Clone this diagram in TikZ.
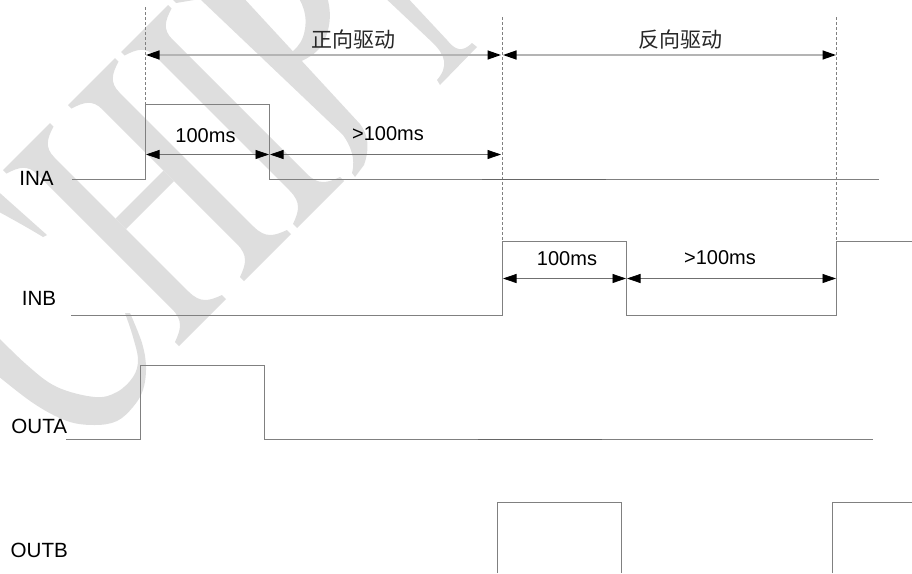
\documentclass[tikz,border=0pt]{standalone}
\usepackage{fontspec}
\setmainfont{Liberation Sans}
\newfontfamily\cjk{Noto Sans CJK SC}
\usetikzlibrary{arrows.meta}
\definecolor{sigcol}{HTML}{808080}
\definecolor{sigdark}{HTML}{666666}
\definecolor{spancol}{HTML}{707070}
\definecolor{spanlight}{HTML}{B4B4B4}
\definecolor{wm}{HTML}{DEDEDE}
\tikzset{
  sig/.style={draw=sigcol,line width=0.9pt,line join=miter},
  sigover/.style={draw=sigdark,line width=0.9pt},
  guide/.style={draw=sigcol,line width=0.7pt,dash pattern=on 3pt off 2pt},
  span/.style={draw=spancol,line width=0.8pt,{Triangle[length=13.5pt,width=9pt,black]}-{Triangle[length=13.5pt,width=9pt,black]}},
  spantop/.style={span,draw=spanlight,line width=1.4pt},
  lab/.style={inner sep=0pt,font=\fontsize{20}{20}\selectfont,text=black},
  siglab/.style={inner sep=0pt,font=\fontsize{20.6}{20.6}\selectfont,text=black},
  cn/.style={inner sep=0pt,font=\cjk\fontsize{21}{21}\selectfont,text=black!85},
  lettercoords/.style={x={(0.5pt,-0.5pt)},y={(-0.5pt,-0.5pt)}},
}
% one upright serif stem of the watermark, in letter coordinates
\newcommand\wmstem[1]{%
  \fill[wm] (173,#1+47) -- (173,#1-47) -- (180,#1-47)
    .. controls (186,#1-28) and (192,#1-17) .. (212,#1-17)
    -- (480,#1-17)
    .. controls (504,#1-17) and (510,#1-28) .. (517,#1-47)
    -- (525,#1-47) -- (525,#1+47) -- (517,#1+47)
    .. controls (510,#1+28) and (504,#1+17) .. (480,#1+17)
    -- (212,#1+17)
    .. controls (192,#1+17) and (186,#1+28) .. (180,#1+47) -- cycle;}
\begin{document}
\begin{tikzpicture}[x=1pt,y=-1pt]
\useasboundingbox (0,0) rectangle (912,573);
\clip (0,0) rectangle (912,573);
% watermark: C
\fill[wm] plot[smooth,tension=.6] coordinates {(-8,371) (33,403) (67,421) (95,425) (117,421) (133,407) (143,390) (146,367) (142,343) (130,313)}
  -- plot[smooth,tension=.6] coordinates {(125,313) (133,337) (138,360) (133,377) (117,392) (95,397) (57,387) (27,365) (-8,331)} -- cycle;
\fill[wm] (-8,186) -- (47,235) -- (43,237) .. controls (25,226) and (10,218) .. (-8,208) -- cycle;
% watermark: H and I
\begin{scope}[lettercoords]
  \wmstem{120}
  \wmstem{-10}
  \wmstem{-116}
  \fill[wm] (334,103) -- (334,7) -- (355,7) -- (355,103) -- cycle;
\end{scope}
% watermark: last letter
\fill[wm] (173,0) -- (182,-6) -- (240,-6) -- (360,124)
  .. controls (368,134) and (370,148) .. (364,165) -- (355,177) -- (352,173)
  .. controls (356,158) and (350,145) .. (343,135) -- (200,-1) -- (176,3) -- cycle;
\fill[wm] (296,-6) .. controls (306,8) and (308,22) .. (303,37)
  .. controls (300,45) and (295,50) .. (288,55) -- (297,63)
  .. controls (310,58) and (320,50) .. (323,43)
  .. controls (331,28) and (332,10) .. (326,-6) -- cycle;
\fill[wm] (381,-6) -- (433,43) .. controls (445,55) and (449,66) .. (437,80)
  -- (440,85) -- (477,47) -- (472,43) .. controls (462,53) and (455,50) .. (447,40)
  -- (404,-6) -- cycle;
% guides
\coordinate (g1t) at (145.5,7); \coordinate (g1b) at (145.5,104);
\coordinate (g2t) at (502.5,17); \coordinate (g2b) at (502.5,241);
\coordinate (g3t) at (836.5,17); \coordinate (g3b) at (836.5,241);
\draw[guide] (g1t) -- (g1b);
\draw[guide] (g2t) -- (g2b);
\draw[guide] (g3t) -- (g3b);
% signals
\draw[sig] (72,179.5) -- (145.5,179.5) -- (145.5,104.5) -- (269.5,104.5) -- (269.5,179.5) -- (879,179.5);
\draw[sig] (71,315.5) -- (502.5,315.5) -- (502.5,241.5) -- (626.5,241.5) -- (626.5,315.5) -- (836.5,315.5) -- (836.5,241.5) -- (912,241.5);
\draw[sig] (66,439.5) -- (140.5,439.5) -- (140.5,365.5) -- (264.5,365.5) -- (264.5,439.5) -- (873,439.5);
\draw[sig] (497.5,573) -- (497.5,502.5) -- (621.5,502.5) -- (621.5,573);
\draw[sig] (832.5,573) -- (832.5,502.5) -- (912,502.5);
\coordinate (o1) at (482,179.5); \coordinate (o2) at (606,179.5);
\coordinate (o3) at (478,439.5); \coordinate (o4) at (602,439.5);
\draw[sigover] (o1) -- (o2);
\draw[sigover] (o3) -- (o4);
% spans
\coordinate (a1) at (146,55); \coordinate (a2) at (501,55);
\coordinate (a3) at (503,55); \coordinate (a4) at (836,55);
\coordinate (b1) at (146,154.5); \coordinate (b2) at (269,154.5);
\coordinate (b3) at (270,154.5); \coordinate (b4) at (501,154.5);
\coordinate (c1) at (503,278.5); \coordinate (c2) at (626,278.5);
\coordinate (c3) at (627,278.5); \coordinate (c4) at (836,278.5);
\draw[spantop] (a1) -- (a2);
\draw[spantop] (a3) -- (a4);
\draw[span] (b1) -- (b2);
\draw[span] (b3) -- (b4);
\draw[span] (c1) -- (c2);
\draw[span] (c3) -- (c4);
% labels
\node[cn] (fwd) at (353,39) {正向驱动};
\node[cn] (rev) at (680,40) {反向驱动};
\node[lab] (t1) at (205.5,136) {100ms};
\node[lab] (t2) at (388,133.5) {>100ms};
\node[lab] (t3) at (567,259) {100ms};
\node[lab] (t4) at (720,257.5) {>100ms};
\node[siglab] (ina) at (36.5,178) {INA};
\node[siglab] (inb) at (39,298) {INB};
\node[siglab] (outa) at (39.3,426.5) {OUTA};
\node[siglab] (outb) at (39.3,550) {OUTB};
\end{tikzpicture}
\end{document}
